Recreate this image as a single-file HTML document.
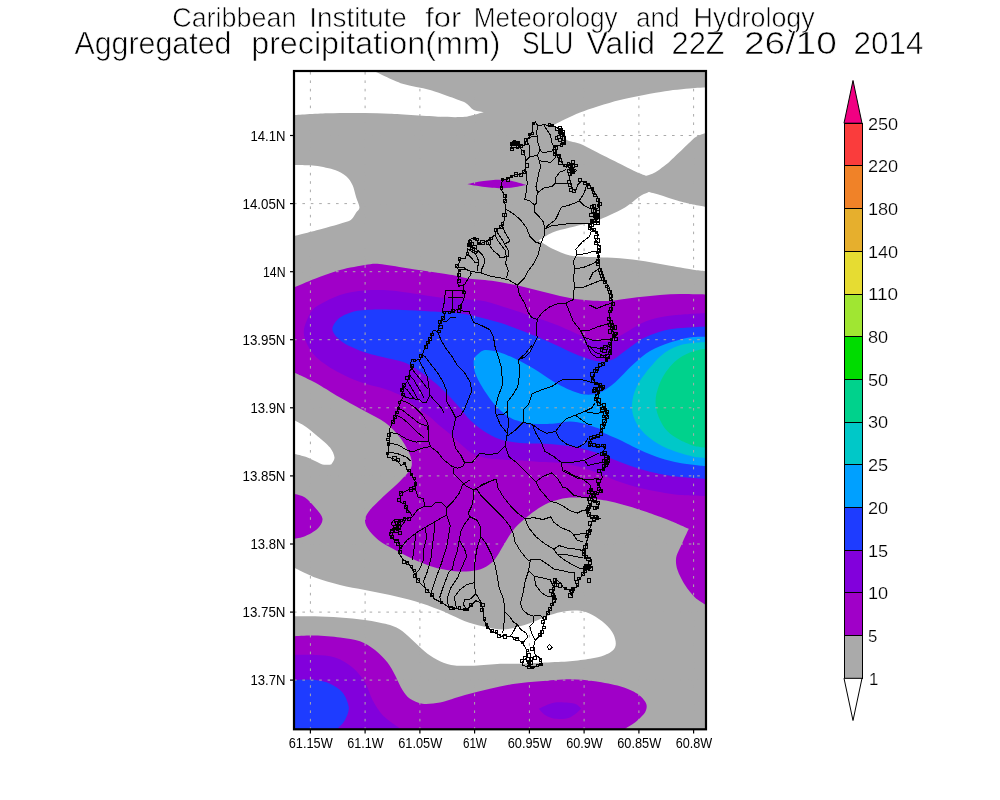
<!DOCTYPE html>
<html><head><meta charset="utf-8"><title>Aggregated precipitation SLU</title>
<style>
html,body{margin:0;padding:0;background:#fff}
body{width:1000px;height:800px;overflow:hidden}
svg{display:block}
text{font-family:"Liberation Sans",sans-serif;fill:#000}
</style></head><body>
<svg width="1000" height="800" viewBox="0 0 1000 800">
<rect width="1000" height="800" fill="#fff"/>
<defs><clipPath id="cp"><rect x="294" y="71" width="412" height="658.3"/></clipPath></defs>
<g clip-path="url(#cp)">
<path d="M290,65 L710,65 L710,735 L290,735Z" fill="#aaaaaa"/>
<path d="M290.0,65.0C290.0,65.0 374.0,65.0 374.0,65.0C374.0,65.0 374.0,71.0 374.0,71.0C374.0,71.0 393.6,80.7 402.5,83.8C411.4,86.8 421.0,87.3 430.0,90.0C439.0,92.7 461.5,100.9 465.0,102.5C468.5,104.1 470.7,108.5 473.8,110.0C476.8,111.5 483.8,112.0 483.8,112.0C483.8,112.0 471.4,116.1 465.0,116.8C458.6,117.4 448.3,117.1 440.0,116.8C431.7,116.4 398.3,114.2 390.0,113.8C381.7,113.3 373.3,113.1 365.0,113.0C356.7,112.9 338.7,112.9 327.5,113.2C316.3,113.6 295.3,114.9 294.0,115.0C292.7,115.1 290.0,115.0 290.0,115.0C290.0,115.0 290.0,65.0 290.0,65.0Z" fill="#ffffff"/>
<path d="M290.0,165.0C290.0,165.0 292.7,165.0 294.0,165.0C295.3,165.0 308.2,164.9 315.0,165.8C321.8,166.6 330.9,168.6 335.0,170.0C339.1,171.4 343.5,173.9 346.2,176.2C349.0,178.6 351.0,181.8 352.5,185.0C354.0,188.2 355.2,194.2 356.2,197.5C357.3,200.8 359.5,205.5 359.5,207.5C359.5,209.5 357.4,210.9 356.2,212.5C355.1,214.1 353.0,219.0 350.0,220.5C347.0,222.0 331.7,226.2 322.5,228.8C313.3,231.3 295.3,235.9 294.0,236.2C292.7,236.6 290.0,237.0 290.0,237.0C290.0,237.0 290.0,165.0 290.0,165.0Z" fill="#ffffff"/>
<path d="M553.8,125.0C553.8,125.0 570.9,115.9 580.0,112.5C589.1,109.1 606.4,103.4 620.0,100.0C633.6,96.6 655.1,92.8 665.0,91.2C674.9,89.7 690.0,88.4 695.0,88.0C700.0,87.6 710.0,87.5 710.0,87.5C710.0,87.5 710.0,131.5 710.0,131.5C710.0,131.5 707.3,132.5 706.0,133.0C704.7,133.5 698.1,135.1 695.0,137.5C691.9,139.9 674.7,157.1 670.0,161.2C665.3,165.4 657.7,170.9 655.0,172.5C652.3,174.1 646.2,175.8 646.2,175.8C646.2,175.8 640.3,173.8 637.5,172.5C634.7,171.2 621.7,164.6 615.0,161.2C608.3,157.9 600.0,153.8 595.0,151.2C590.0,148.8 584.4,145.6 580.0,143.8C575.6,141.9 570.2,142.3 566.2,139.5C562.3,136.7 553.8,125.0 553.8,125.0Z" fill="#ffffff"/>
<path d="M648.8,192.0C648.8,192.0 656.3,193.9 660.0,195.0C663.7,196.1 674.9,200.0 682.5,202.0C690.1,204.0 704.7,206.7 706.0,207.0C707.3,207.3 710.0,208.0 710.0,208.0C710.0,208.0 710.0,271.5 710.0,271.5C710.0,271.5 707.3,271.4 706.0,271.2C704.7,271.1 698.6,270.6 695.0,270.0C691.4,269.4 678.3,267.2 670.0,265.8C661.7,264.3 653.3,262.5 645.0,261.2C636.7,260.0 628.4,258.9 620.0,258.2C611.6,257.6 593.3,257.3 587.5,257.0C581.7,256.7 575.7,256.8 570.0,255.5C564.3,254.2 557.3,251.1 552.5,248.8C547.7,246.4 538.8,240.5 538.8,240.5C538.8,240.5 547.6,234.5 552.5,232.5C557.4,230.5 564.1,229.1 570.0,227.5C575.9,225.9 589.8,222.9 595.0,221.2C600.2,219.6 605.1,217.3 610.0,215.0C614.9,212.7 620.3,210.5 625.0,207.5C629.7,204.5 637.3,198.0 640.0,196.2C642.7,194.5 648.8,192.0 648.8,192.0Z" fill="#ffffff"/>
<path d="M290.0,418.0C290.0,418.0 292.7,419.3 294.0,420.0C295.3,420.7 301.5,423.9 305.0,426.2C308.5,428.6 313.4,432.8 317.5,436.2C321.6,439.7 327.7,444.6 330.0,447.5C332.3,450.4 334.3,454.9 334.5,457.5C334.7,460.1 331.2,464.5 331.2,464.5C331.2,464.5 325.3,465.3 322.5,464.5C319.7,463.7 311.9,459.1 307.5,457.5C303.1,455.9 295.3,454.1 294.0,453.8C292.7,453.4 290.0,453.0 290.0,453.0C290.0,453.0 290.0,418.0 290.0,418.0Z" fill="#ffffff"/>
<path d="M290.0,565.5C290.0,565.5 292.7,566.9 294.0,567.5C295.3,568.1 307.8,574.7 315.0,577.5C322.2,580.3 331.8,582.9 340.0,585.0C348.2,587.1 356.7,588.3 365.0,590.0C373.3,591.7 381.7,593.1 390.0,595.0C398.3,596.9 406.8,598.8 415.0,601.2C423.2,603.7 431.8,606.7 440.0,610.0C448.2,613.3 459.3,619.1 465.0,621.2C470.7,623.4 476.6,624.9 482.5,626.2C488.4,627.6 496.6,629.5 502.5,629.5C508.4,629.5 514.9,627.5 520.0,626.2C525.1,625.0 530.1,623.1 535.0,621.2C539.9,619.4 545.1,616.6 550.0,615.0C554.9,613.4 560.0,612.0 565.0,611.2C570.0,610.5 575.6,610.2 580.0,610.8C584.4,611.3 588.6,613.0 592.5,615.0C596.4,617.0 601.5,620.5 605.0,623.8C608.5,627.0 612.1,631.1 613.8,635.0C615.4,638.9 616.7,643.7 615.0,647.5C613.3,651.3 608.8,653.3 605.0,655.0C601.2,656.7 595.1,657.8 590.0,658.8C584.9,659.7 576.7,660.7 570.0,661.2C563.3,661.8 553.3,662.1 545.0,662.5C536.7,662.9 525.8,663.6 520.0,663.8C514.2,663.9 508.3,663.5 502.5,663.8C496.7,664.0 485.0,665.2 477.5,665.5C470.0,665.8 460.2,666.1 455.0,665.5C449.8,664.9 444.5,663.2 440.0,661.2C435.5,659.3 431.4,656.7 427.5,653.8C423.6,650.8 419.2,646.2 415.0,642.5C410.8,638.8 406.3,633.9 402.5,631.2C398.7,628.6 394.5,626.3 390.0,625.0C385.5,623.7 373.3,621.2 365.0,620.0C356.7,618.8 348.3,618.1 340.0,617.5C331.7,616.9 322.0,616.4 315.0,616.2C308.0,616.1 295.3,616.2 294.0,616.2C292.7,616.2 290.0,616.2 290.0,616.2C290.0,616.2 290.0,565.5 290.0,565.5Z" fill="#ffffff"/>
<path d="M290.0,289.0C290.0,289.0 292.7,288.0 294.0,287.5C295.3,287.0 307.9,281.4 315.0,278.8C322.1,276.1 331.8,272.3 340.0,270.0C348.2,267.7 360.9,265.7 365.0,265.0C369.1,264.3 373.3,263.5 377.5,263.8C381.7,264.0 394.2,266.2 402.5,267.5C410.8,268.8 419.2,270.0 427.5,271.2C435.8,272.5 446.6,274.0 452.5,275.0C458.4,276.0 464.1,277.9 470.0,278.8C475.9,279.6 486.7,280.0 495.0,281.2C503.3,282.5 513.3,284.5 520.0,286.0C526.7,287.5 533.3,289.3 540.0,291.0C546.7,292.7 553.4,294.6 560.0,296.0C566.6,297.4 573.4,298.8 580.0,299.6C586.6,300.4 595.3,300.9 600.0,301.0C604.7,301.1 609.4,300.9 614.0,300.4C618.6,299.9 633.3,297.8 640.0,297.0C646.7,296.2 653.3,295.5 660.0,295.0C666.7,294.5 673.3,294.1 680.0,294.0C686.7,293.9 704.7,294.4 706.0,294.4C707.3,294.4 710.0,294.4 710.0,294.4C710.0,294.4 710.0,607.5 710.0,607.5C710.0,607.5 707.3,605.9 706.0,605.0C704.7,604.1 698.2,600.6 695.0,597.5C691.8,594.4 687.9,589.5 685.0,585.0C682.1,580.5 678.8,574.0 677.5,570.0C676.2,566.0 675.5,561.6 676.2,557.5C677.0,553.4 680.5,547.1 682.5,542.5C684.5,537.9 688.8,528.8 688.8,528.8C688.8,528.8 676.0,523.1 672.0,521.5C668.0,519.9 664.0,518.3 660.0,516.8C656.0,515.3 648.0,512.4 642.0,510.5C636.0,508.6 630.0,506.7 624.0,505.1C618.0,503.5 612.1,501.7 606.0,500.6C599.9,499.5 590.4,498.3 584.4,497.9C578.4,497.5 571.3,497.4 566.4,497.9C561.5,498.4 556.4,499.9 552.0,501.5C547.6,503.1 543.4,505.3 539.4,507.8C535.4,510.3 529.5,514.7 525.0,518.6C520.5,522.5 515.9,526.8 512.4,531.2C508.9,535.6 506.4,540.8 503.4,545.6C500.4,550.4 497.5,556.5 494.4,560.0C491.3,563.5 487.0,566.4 483.0,568.3C479.0,570.2 474.4,570.8 470.0,571.2C465.6,571.7 460.0,571.8 455.0,571.2C450.0,570.7 441.5,569.3 435.0,567.5C428.5,565.7 421.0,562.6 415.0,560.0C409.0,557.4 403.2,554.3 397.5,551.2C391.8,548.2 384.3,544.4 380.0,541.2C375.7,538.1 370.8,532.9 368.8,530.0C366.7,527.1 364.8,523.6 365.0,520.0C365.2,516.4 367.7,512.9 370.0,510.0C372.3,507.1 380.1,499.7 385.0,495.0C389.9,490.3 395.9,485.5 400.0,481.2C404.1,477.0 409.8,471.4 411.2,467.5C412.7,463.6 411.5,458.9 410.0,455.0C408.5,451.1 404.1,442.8 400.0,437.5C395.9,432.2 390.7,426.7 385.0,422.5C379.3,418.3 371.7,415.0 365.0,411.2C358.3,407.5 348.2,402.2 340.0,397.5C331.8,392.8 321.8,386.2 315.0,382.5C308.2,378.8 295.3,373.1 294.0,372.5C292.7,371.9 290.0,370.5 290.0,370.5C290.0,370.5 290.0,289.0 290.0,289.0Z" fill="#a000c8"/>
<path d="M467.5,184.2C467.5,184.2 475.8,182.1 480.0,181.5C484.2,180.9 492.7,179.9 497.5,179.8C502.3,179.7 507.2,180.1 512.0,181.0C516.8,181.9 526.2,185.0 526.2,185.0C526.2,185.0 517.8,186.8 514.0,187.3C510.2,187.8 506.3,188.3 502.5,188.3C498.7,188.3 490.8,187.7 485.0,187.0C479.2,186.3 467.5,184.2 467.5,184.2Z" fill="#a000c8"/>
<path d="M290.0,492.5C290.0,492.5 292.7,493.3 294.0,493.8C295.3,494.2 301.8,495.4 305.0,497.5C308.2,499.6 312.1,504.0 315.0,507.5C317.9,511.0 322.1,515.0 322.5,518.8C322.9,522.5 320.1,526.1 317.5,528.8C314.9,531.4 308.5,534.8 305.0,536.2C301.5,537.7 295.3,538.5 294.0,538.8C292.7,539.0 290.0,539.5 290.0,539.5C290.0,539.5 290.0,492.5 290.0,492.5Z" fill="#a000c8"/>
<path d="M290.0,636.2C290.0,636.2 292.7,636.3 294.0,636.2C295.3,636.2 308.0,635.3 315.0,635.5C322.0,635.7 333.3,636.6 340.0,637.5C346.7,638.4 354.5,639.3 360.0,641.2C365.5,643.2 370.4,646.5 375.0,650.0C379.6,653.5 384.5,658.7 387.5,662.5C390.5,666.3 392.7,670.7 395.0,675.0C397.3,679.3 400.4,686.8 402.5,690.0C404.6,693.2 406.8,696.6 410.0,698.8C413.2,700.9 418.0,703.2 422.5,703.8C427.0,704.3 434.3,703.7 440.0,702.5C445.7,701.3 456.7,697.3 465.0,695.0C473.3,692.7 481.7,690.6 490.0,688.8C498.3,686.9 506.7,685.0 515.0,683.8C523.3,682.5 531.7,681.9 540.0,681.2C548.3,680.6 561.6,679.2 570.0,679.2C578.4,679.2 586.7,680.1 595.0,681.2C603.3,682.4 613.9,684.5 620.0,686.2C626.1,688.0 633.8,691.3 637.5,693.8C641.2,696.2 645.2,701.0 646.2,703.8C647.3,706.5 646.5,710.0 645.0,712.5C643.5,715.0 638.1,720.0 635.0,722.5C631.9,725.0 627.0,727.3 625.0,729.0C623.0,730.7 622.6,735.0 620.0,735.0C617.4,735.0 290.0,735.0 290.0,735.0C290.0,735.0 290.0,636.2 290.0,636.2Z" fill="#a000c8"/>
<path d="M303.8,332.5C303.7,328.2 305.2,323.9 307.0,320.0C308.8,316.1 311.1,310.5 315.0,307.5C318.9,304.5 332.0,297.7 340.0,295.0C348.0,292.3 356.7,291.2 365.0,290.5C373.3,289.8 381.7,290.0 390.0,290.5C398.3,291.0 406.7,292.6 415.0,293.8C423.3,294.9 431.7,296.5 440.0,297.5C448.3,298.5 458.3,298.9 465.0,299.5C471.7,300.1 478.4,299.9 485.0,301.2C491.6,302.6 503.3,306.7 507.5,308.0C511.7,309.3 516.6,310.8 520.0,312.0C523.4,313.2 526.7,314.9 530.0,316.0C533.3,317.1 536.7,317.9 540.0,319.0C543.3,320.1 551.4,322.8 557.0,325.0C562.6,327.2 568.4,330.1 574.0,332.5C579.6,334.9 585.5,338.0 591.0,339.5C596.5,341.0 602.4,342.6 608.0,341.5C613.6,340.4 619.4,336.0 625.0,333.0C630.6,330.0 636.6,325.5 642.0,323.0C647.4,320.5 653.4,318.8 659.0,317.5C664.6,316.2 670.3,315.5 676.0,315.0C681.7,314.5 704.7,313.1 706.0,313.0C707.3,312.9 710.0,313.0 710.0,313.0C710.0,313.0 710.0,496.0 710.0,496.0C710.0,496.0 707.3,496.0 706.0,496.0C704.7,496.0 686.7,495.6 680.0,495.0C673.3,494.4 666.6,493.2 660.0,492.0C653.4,490.8 646.6,489.6 640.0,488.0C633.4,486.4 626.6,484.3 620.0,482.0C613.4,479.7 606.6,476.5 600.0,474.0C593.4,471.5 586.6,468.8 580.0,467.0C573.4,465.2 566.6,463.8 560.0,463.0C553.4,462.2 546.7,462.4 540.0,462.0C533.3,461.6 524.0,460.7 520.0,460.5C516.0,460.3 512.0,460.2 508.0,460.0C504.0,459.8 496.1,459.5 492.0,459.0C487.9,458.5 483.5,457.6 480.0,456.5C476.5,455.4 473.1,454.0 470.0,452.0C466.9,450.0 463.3,446.4 460.0,443.5C456.7,440.6 453.2,436.8 450.0,434.0C446.8,431.2 443.3,428.8 440.0,426.0C436.7,423.2 433.2,419.5 430.0,417.0C426.8,414.5 423.3,412.4 420.0,410.0C416.7,407.6 413.3,404.4 410.0,402.0C406.7,399.6 403.6,396.8 400.0,395.0C396.4,393.2 389.1,390.3 383.5,388.5C377.9,386.7 372.1,385.8 366.5,384.0C360.9,382.2 355.4,380.4 350.0,378.0C344.6,375.6 338.1,372.4 332.5,369.0C326.9,365.6 319.5,360.4 316.0,357.0C312.5,353.6 309.4,348.9 307.5,345.0C305.6,341.1 303.8,336.8 303.8,332.5Z" fill="#8200dc"/>
<path d="M290.0,655.0C290.0,655.0 292.7,655.0 294.0,655.0C295.3,655.0 308.3,654.6 315.0,655.0C321.7,655.4 328.6,655.4 335.0,657.5C341.4,659.6 347.5,663.3 352.5,667.5C357.5,671.7 361.7,677.1 365.0,682.5C368.3,687.9 369.7,694.7 372.5,700.0C375.3,705.3 378.9,711.0 382.5,715.0C386.1,719.0 393.3,723.7 395.0,725.0C396.7,726.3 398.8,727.3 400.0,729.0C401.2,730.7 402.0,735.0 402.0,735.0C402.0,735.0 290.0,735.0 290.0,735.0C290.0,735.0 290.0,655.0 290.0,655.0Z" fill="#8200dc"/>
<path d="M538.8,708.8C538.8,708.8 549.3,703.3 555.0,702.5C560.7,701.7 572.4,703.1 575.0,703.8C577.6,704.4 581.2,708.8 581.2,708.8C581.2,708.8 574.4,715.8 570.0,717.5C565.6,719.2 558.5,719.1 555.0,718.8C551.5,718.4 547.5,716.5 545.0,715.0C542.5,713.5 538.8,708.8 538.8,708.8Z" fill="#8200dc"/>
<path d="M332.5,327.5C333.2,325.0 336.6,319.9 340.0,317.5C343.4,315.1 349.7,312.4 355.0,311.2C360.3,310.1 370.0,309.7 377.5,309.5C385.0,309.3 394.2,309.7 402.5,310.0C410.8,310.3 419.2,310.8 427.5,311.2C435.8,311.7 446.6,312.0 452.5,312.5C458.4,313.0 465.8,314.2 470.0,315.0C474.2,315.8 478.4,316.9 482.5,318.0C486.6,319.1 496.6,321.6 502.5,323.5C508.4,325.4 514.2,327.8 520.0,330.0C525.8,332.2 534.3,335.6 540.0,338.0C545.7,340.4 551.4,342.9 557.0,345.5C562.6,348.1 568.8,351.3 574.0,353.5C579.2,355.7 585.8,358.3 590.0,359.5C594.2,360.7 599.2,361.6 603.0,361.5C606.8,361.4 610.6,360.6 614.0,359.0C617.4,357.4 621.3,353.6 625.0,351.0C628.7,348.4 636.7,342.0 642.0,339.0C647.3,336.0 653.5,333.7 659.0,332.0C664.5,330.3 670.3,329.2 676.0,328.5C681.7,327.8 704.7,326.6 706.0,326.5C707.3,326.4 710.0,326.5 710.0,326.5C710.0,326.5 710.0,479.0 710.0,479.0C710.0,479.0 707.3,479.1 706.0,479.0C704.7,478.9 686.7,477.7 680.0,477.0C673.3,476.3 666.6,475.3 660.0,474.0C653.4,472.7 646.6,471.0 640.0,469.0C633.4,467.0 626.6,464.5 620.0,462.0C613.4,459.5 606.6,456.3 600.0,454.0C593.4,451.7 586.6,449.5 580.0,448.0C573.4,446.5 566.6,445.7 560.0,445.0C553.4,444.3 546.7,443.9 540.0,443.6C533.3,443.3 526.6,443.7 520.0,443.0C513.4,442.3 505.7,441.1 500.0,439.2C494.3,437.3 489.0,434.4 484.0,431.2C479.0,428.0 473.7,423.6 470.0,420.0C466.3,416.4 463.3,411.7 460.0,408.0C456.7,404.3 453.3,400.4 450.0,397.0C446.7,393.6 443.5,390.1 440.0,387.0C436.5,383.9 430.2,378.7 425.0,375.0C419.8,371.3 413.0,366.3 407.5,363.8C402.0,361.2 395.9,360.3 390.0,358.8C384.1,357.2 371.9,354.8 365.0,352.5C358.1,350.2 348.8,346.0 345.0,343.8C341.2,341.5 336.6,337.1 335.0,335.0C333.4,332.9 331.8,330.0 332.5,327.5Z" fill="#1e3cff"/>
<path d="M290.0,680.0C290.0,680.0 292.7,680.0 294.0,680.0C295.3,680.0 309.9,679.5 315.0,680.0C320.1,680.5 325.4,681.6 330.0,683.8C334.6,685.9 339.3,688.5 342.5,692.5C345.7,696.5 348.4,703.2 348.8,707.5C349.1,711.8 346.8,716.5 345.0,720.0C343.2,723.5 338.7,727.2 337.5,729.0C336.3,730.8 335.0,735.0 335.0,735.0C335.0,735.0 290.0,735.0 290.0,735.0C290.0,735.0 290.0,680.0 290.0,680.0Z" fill="#1e3cff"/>
<path d="M473.8,360.0C474.0,358.0 475.5,356.3 477.0,355.0C478.5,353.7 481.9,350.3 485.0,350.0C488.1,349.7 495.2,351.0 500.0,352.5C504.8,354.0 514.0,358.0 520.0,361.0C526.0,364.0 532.4,367.9 537.5,371.0C542.6,374.1 547.3,378.0 552.5,381.0C557.7,384.0 565.2,388.0 570.0,390.0C574.8,392.0 580.0,394.1 585.0,394.5C590.0,394.9 595.3,394.4 600.0,392.5C604.7,390.6 610.4,386.4 615.0,382.5C619.6,378.6 626.9,370.0 632.5,365.0C638.1,360.0 643.8,354.7 650.0,351.0C656.2,347.3 663.5,344.7 670.0,342.5C676.5,340.3 684.7,338.3 690.0,337.5C695.3,336.7 704.7,336.8 706.0,336.8C707.3,336.7 710.0,336.5 710.0,336.5C710.0,336.5 710.0,466.6 710.0,466.6C710.0,466.6 707.3,466.6 706.0,466.4C704.7,466.2 686.8,464.2 680.0,463.0C673.2,461.8 666.5,460.1 660.0,458.0C653.5,455.9 646.5,452.9 640.0,450.0C633.5,447.1 625.3,442.5 620.0,440.0C614.7,437.5 605.7,433.9 604.0,433.0C602.3,432.1 601.7,429.8 600.0,429.0C598.3,428.2 589.9,425.2 585.0,424.0C580.1,422.8 575.1,421.5 570.0,421.5C564.9,421.5 558.4,423.4 552.5,423.8C546.6,424.1 538.4,424.3 532.5,423.8C526.6,423.2 517.7,420.8 515.0,420.0C512.3,419.2 509.8,417.7 507.5,416.0C505.2,414.3 498.7,409.2 495.0,405.0C491.3,400.8 485.4,392.3 482.5,387.5C479.6,382.7 476.3,376.5 475.0,372.5C473.7,368.5 473.5,362.0 473.8,360.0Z" fill="#00a0ff"/>
<path d="M710.0,341.8C710.0,341.8 707.3,341.9 706.0,342.0C704.7,342.1 688.7,342.9 682.5,344.5C676.3,346.1 670.2,348.8 665.0,352.5C659.8,356.2 654.6,362.1 650.0,367.5C645.4,372.9 640.0,380.4 637.5,385.0C635.0,389.6 633.2,395.9 632.5,400.0C631.8,404.1 631.7,408.4 632.5,412.5C633.3,416.6 635.1,421.2 637.5,425.0C639.9,428.8 643.7,433.0 647.5,436.2C651.3,439.5 657.2,443.5 662.5,446.2C667.8,449.0 675.1,451.4 680.0,453.0C684.9,454.6 691.4,456.3 695.0,457.0C698.6,457.7 704.7,457.9 706.0,458.0C707.3,458.1 710.0,458.2 710.0,458.2C710.0,458.2 710.0,341.8 710.0,341.8Z" fill="#00c8c8"/>
<path d="M710.0,348.0C710.0,348.0 707.3,348.2 706.0,348.5C704.7,348.8 695.1,350.4 690.0,352.5C684.9,354.6 679.3,357.6 675.0,361.5C670.7,365.4 665.5,372.1 662.5,377.5C659.5,382.9 657.1,390.9 656.2,395.0C655.4,399.1 655.4,403.4 656.0,407.5C656.6,411.6 658.1,416.1 660.0,420.0C661.9,423.9 664.3,428.1 667.5,431.2C670.7,434.4 675.5,437.6 680.0,440.0C684.5,442.4 691.5,445.2 695.0,446.2C698.5,447.3 704.7,447.4 706.0,447.5C707.3,447.6 710.0,447.8 710.0,447.8C710.0,447.8 710.0,348.0 710.0,348.0Z" fill="#00d28c"/>
</g>
<g stroke="#aaaaaa" stroke-width="1" stroke-dasharray="2.6 5.8" fill="none">
<line x1="310.4" y1="72" x2="310.4" y2="729"/>
<line x1="365.1" y1="72" x2="365.1" y2="729"/>
<line x1="419.9" y1="72" x2="419.9" y2="729"/>
<line x1="474.6" y1="72" x2="474.6" y2="729"/>
<line x1="529.4" y1="72" x2="529.4" y2="729"/>
<line x1="584.1" y1="72" x2="584.1" y2="729"/>
<line x1="638.9" y1="72" x2="638.9" y2="729"/>
<line x1="693.6" y1="72" x2="693.6" y2="729"/>
<line x1="294" y1="135.5" x2="706" y2="135.5"/>
<line x1="294" y1="203.6" x2="706" y2="203.6"/>
<line x1="294" y1="271.7" x2="706" y2="271.7"/>
<line x1="294" y1="339.7" x2="706" y2="339.7"/>
<line x1="294" y1="407.8" x2="706" y2="407.8"/>
<line x1="294" y1="475.9" x2="706" y2="475.9"/>
<line x1="294" y1="544.0" x2="706" y2="544.0"/>
<line x1="294" y1="612.1" x2="706" y2="612.1"/>
<line x1="294" y1="680.1" x2="706" y2="680.1"/>
</g>
<g clip-path="url(#cp)">
<path fill="none" stroke="#000" stroke-width="1" shape-rendering="crispEdges" stroke-linejoin="round" d="M535.2,121.6 532.8,125.6 532.8,132.0 529.6,134.4 528.8,138.4 526.4,140.0 525.6,144.8 520.0,146.4 519.2,144.0 512.0,142.4 511.2,148.8 514.4,147.2 519.2,147.2 523.2,151.2 524.8,154.4 525.6,160.8 525.6,167.2 524.0,172.0 520.0,174.4 515.2,174.4 512.0,176.8 507.2,179.2 502.4,179.2 501.6,184.8 500.8,189.6 503.2,192.8 505.6,196.0 504.8,202.4 505.6,208.8 504.8,215.0 503.9,222.2 502.5,226.0 496.2,230.0 495.0,235.0 491.2,237.5 487.5,241.2 482.5,242.5 480.0,245.0 477.5,241.2 473.8,237.5 469.4,240.0 470.0,243.8 473.8,247.5 478.8,251.2 475.0,253.8 471.2,251.2 467.5,248.8 466.9,253.8 465.0,258.8 460.0,258.8 458.8,263.8 456.2,267.5 458.8,270.0 458.1,275.0 458.8,278.8 457.5,282.5 458.8,286.2 463.1,285.0 463.1,290.0 464.4,295.0 463.8,300.0 460.6,305.0 460.6,308.8 456.2,310.0 452.0,312.0 442.1,311.6 444.8,315.2 441.2,320.6 439.4,326.0 437.6,331.4 433.1,330.5 431.3,336.8 428.6,342.2 425.0,347.6 422.3,354.8 420.5,359.3 416.0,360.2 411.5,359.3 410.6,363.8 413.3,367.4 409.7,371.0 408.8,376.4 407.0,381.8 403.4,385.4 401.6,390.8 403.4,396.2 400.7,401.6 398.0,408.8 395.3,416.0 392.6,423.2 389.0,430.4 389.0,432.2 389.0,443.0 388.1,452.0 387.2,457.4 392.6,458.3 398.0,461.0 400.7,465.5 405.2,463.7 407.0,470.0 410.6,471.8 412.4,477.2 416.0,482.6 415.1,488.0 408.8,489.8 403.4,492.5 399.8,493.4 400.7,502.4 405.2,504.2 407.0,509.6 410.6,513.2 412.4,516.8 407.0,518.6 399.8,519.5 398.0,525.8 390.8,531.2 389.9,534.8 394.4,540.2 398.0,540.2 399.8,547.4 399.8,554.6 403.4,560.0 408.8,563.6 412.4,569.0 415.0,575.0 420.0,582.8 425.4,588.2 430.8,593.6 434.4,599.0 441.6,602.6 448.8,607.1 457.8,608.9 466.8,609.8 470.4,606.2 475.8,600.8 481.2,602.6 483.0,611.6 483.9,618.8 486.6,626.0 492.0,631.4 497.4,633.2 501.0,636.8 504.6,635.0 508.2,636.8 511.8,636.8 517.2,638.6 522.6,643.1 526.2,649.4 528.0,656.6 522.6,661.1 522.6,665.6 528.0,666.5 533.4,667.4 538.8,665.6 542.4,663.8 540.6,658.4 535.2,654.8 533.4,647.6 535.2,640.4 540.6,635.0 542.4,629.6 544.2,620.6 547.8,613.4 553.2,602.6 556.8,599.0 553.2,597.2 553.2,590.0 556.8,584.6 555.0,579.2 560.4,582.8 564.0,588.2 569.4,590.0 571.2,595.4 573.0,588.2 578.4,586.4 578.4,581.0 582.0,575.6 585.6,570.2 591.0,564.8 591.0,559.4 585.6,557.6 583.8,552.2 584.4,551.0 586.2,543.8 588.0,536.6 589.8,529.4 591.6,521.3 600.6,518.6 589.8,516.8 588.0,509.6 591.6,506.0 597.9,507.8 598.8,503.3 595.2,501.5 589.8,497.0 590.7,489.8 595.2,493.4 602.4,491.6 598.8,484.4 602.4,477.2 600.6,470.0 604.2,469.2 606.0,462.0 609.6,456.6 602.4,453.0 606.0,446.7 588.0,445.8 591.6,438.6 602.4,435.0 602.4,429.6 604.2,422.4 607.8,415.2 606.0,408.0 598.8,402.6 595.2,397.2 598.8,391.8 604.2,389.1 602.4,386.4 595.2,382.8 592.5,377.4 595.2,372.0 600.6,366.6 606.0,361.2 610.5,354.0 611.4,345.0 611.9,344.6 611.0,339.2 617.3,333.8 611.0,330.2 614.6,326.6 611.0,323.0 609.2,315.8 611.0,310.4 612.8,303.2 611.0,294.2 609.2,287.0 603.8,279.8 602.0,274.4 599.3,267.2 598.4,256.4 600.2,247.4 596.6,242.0 598.4,234.8 594.8,231.2 589.4,225.8 593.0,220.4 598.0,219.0 599.0,214.0 599.0,206.0 600.0,202.4 597.6,197.6 594.4,192.0 591.2,187.2 587.2,183.2 581.6,180.8 577.6,184.8 576.0,190.4 572.8,189.6 570.4,183.2 569.6,178.4 570.4,171.2 576.0,171.2 576.0,169.6 572.8,168.8 572.8,163.2 569.6,163.2 566.4,167.2 560.0,160.8 559.2,155.2 555.2,154.4 555.2,147.2 558.4,145.6 564.8,144.0 564.0,136.8 563.2,132.0 558.4,129.6 555.2,126.4 550.4,125.6 544.0,124.8 537.6,125.6 535.2,121.6Z M537.6,125.6 536.8,132.0 537.6,141.6 540.0,149.6 542.4,152.8 552.0,151.2 554.4,147.2 M544.0,125.6 550.4,135.2 552.0,143.2 554.4,147.2 M525.6,160.8 529.6,156.8 537.6,155.2 540.0,149.6 M537.6,155.2 539.2,160.8 550.4,162.4 555.2,157.6 555.2,154.4 M539.2,160.8 540.8,167.2 538.4,173.6 537.6,180.0 536.0,186.4 537.6,192.8 536.0,199.2 536.8,202.4 534.4,205.6 534.4,212.0 539.2,216.8 543.2,221.6 544.4,227.0 544.4,234.8 540.8,243.8 M525.6,167.2 526.4,175.2 527.2,183.2 526.4,189.6 525.6,196.0 524.8,199.2 529.6,200.8 534.4,204.8 M537.6,192.8 544.0,188.0 552.0,186.4 555.2,183.2 555.2,178.4 560.0,172.0 566.4,169.6 M555.2,183.2 561.6,183.2 569.6,183.2 M544.4,229.4 548.8,224.8 555.2,220.0 558.4,213.6 561.6,207.2 568.0,205.6 574.4,203.2 579.2,200.8 582.4,196.0 584.8,191.2 587.2,183.2 M579.2,200.8 584.0,205.6 590.4,208.8 596.0,208.8 600.0,207.2 M504.8,208.8 510.4,212.0 515.2,215.2 521.0,220.4 526.4,227.6 530.0,236.6 535.4,242.0 540.8,243.8 M544.4,229.4 551.6,225.8 566.0,224.0 580.4,223.1 589.4,224.0 M528.8,138.4 533.0,136.0 536.8,137.0 M526.4,140.0 530.0,147.0 529.6,156.8 M540.8,243.8 538.1,254.6 533.6,263.6 528.2,270.8 524.6,278.0 517.4,285.2 M517.4,285.2 508.4,279.8 501.2,278.0 490.4,276.2 479.6,272.6 472.4,271.7 463.4,269.0 458.9,270.8 M517.4,285.2 519.2,294.2 524.6,303.2 528.2,312.2 531.8,317.6 537.2,319.4 M537.2,319.4 542.6,312.2 549.8,306.8 558.8,303.2 566.0,303.2 573.2,299.6 573.2,292.4 575.0,287.0 M537.2,319.4 536.3,330.2 537.2,337.4 533.6,344.6 530.0,351.8 524.6,357.2 518.7,359.4 M566.0,303.2 569.6,312.2 573.2,321.2 580.4,330.2 584.0,337.4 587.6,346.4 591.2,353.6 596.6,357.2 609.2,357.2 M580.4,330.2 589.4,330.2 598.4,326.6 611.0,323.0 M584.0,337.4 594.8,341.0 605.6,339.2 611.0,339.2 M587.6,346.4 598.4,348.2 609.2,346.4 M589.4,305.0 596.6,308.6 605.6,305.0 611.9,303.2 M575.0,287.0 573.2,278.0 575.0,269.0 573.2,261.8 576.8,254.6 575.9,249.2 582.2,242.0 589.4,236.6 591.2,231.2 589.4,225.8 M575.0,287.0 584.0,287.0 593.0,283.4 602.0,279.8 M575.0,269.0 584.0,267.2 593.0,263.6 598.4,260.0 M576.8,254.6 585.8,253.7 594.8,251.0 598.4,252.8 M589.4,279.8 593.0,272.6 598.4,269.0 M506.6,256.4 505.7,263.6 508.4,270.8 506.6,278.0 M456.2,267.5 463.8,267.5 470.0,271.2 471.2,273.8 468.1,278.8 465.0,283.8 463.1,285.0 M478.8,251.2 482.5,255.0 485.0,260.0 483.8,265.0 481.2,270.0 481.2,272.5 M475.0,253.8 477.5,257.5 478.8,262.5 477.5,267.5 477.5,271.2 M466.9,253.8 471.2,257.5 475.0,262.5 477.5,262.5 M487.5,241.2 490.0,246.2 493.8,251.2 498.8,255.0 500.0,258.0 505.0,256.9 508.8,256.2 508.1,250.0 505.0,245.0 502.5,240.0 498.8,235.0 496.2,230.0 M495.0,235.0 497.5,240.0 501.2,245.0 505.0,250.0 506.2,256.2 M502.5,226.0 505.0,232.5 508.8,238.8 510.0,241.2 505.0,243.8 M445.7,290.0 464.6,290.0 M445.7,290.0 444.8,297.2 443.9,304.4 442.1,311.6 M452.6,291.0 452.0,312.0 M446.3,297.0 463.0,297.2 M460.1,310.7 469.1,311.6 473.6,322.4 482.6,326.0 489.8,329.6 493.4,336.8 495.2,347.6 498.0,355.8 501.6,368.4 502.5,384.6 498.0,397.2 495.3,408.0 496.2,415.2 503.4,414.3 507.0,411.6 507.0,402.6 512.4,395.4 517.8,386.4 519.6,373.8 518.7,359.4 525.0,354.0 532.2,345.0 M437.6,331.4 441.2,340.4 446.6,349.4 452.0,356.6 457.4,365.6 464.6,372.8 470.0,381.8 471.8,390.8 468.2,399.8 464.6,408.8 461.0,415.1 455.6,417.8 452.0,410.6 446.6,401.6 446.6,390.8 443.0,381.8 437.6,372.8 430.4,363.8 425.0,356.6 422.3,354.8 M455.6,417.8 453.8,426.8 452.0,434.0 453.8,441.2 455.6,448.4 461.0,455.6 464.6,462.8 M496.2,415.2 500.6,425.0 507.8,434.0 M441.2,320.6 446.0,322.0 450.0,318.0 456.0,317.6 M507.0,411.6 508.8,422.4 507.0,435.0 505.2,445.8 508.8,456.6 516.0,462.0 523.2,469.2 530.4,476.4 535.8,481.8 539.4,489.0 544.8,495.2 550.2,501.5 555.6,502.4 562.8,506.0 570.0,510.5 577.2,513.2 582.6,510.5 588.0,509.6 M505.2,445.8 498.0,453.0 489.0,454.8 480.0,453.0 471.8,462.8 464.6,462.8 M523.2,422.4 523.2,409.8 528.6,404.4 532.2,393.6 541.2,390.0 552.0,386.4 561.0,380.1 573.6,379.2 584.4,380.1 592.5,382.8 M523.2,422.4 516.0,429.6 508.8,435.0 507.0,435.0 M523.2,422.4 532.2,424.2 539.4,429.6 546.6,433.2 555.6,431.4 561.0,424.2 566.4,418.8 575.4,415.2 584.4,411.6 591.6,408.0 595.2,402.6 M575.4,415.2 582.6,420.6 588.0,424.2 591.6,424.2 M584.4,411.6 595.2,413.4 604.2,412.5 M555.6,431.4 559.2,438.6 566.4,444.0 577.2,447.6 584.4,444.0 588.0,438.6 M532.2,424.2 535.8,433.2 541.2,442.2 544.8,451.2 553.8,456.6 561.0,462.0 562.8,471.0 570.0,474.6 577.2,478.2 588.0,480.0 598.8,478.2 M561.0,462.0 573.6,462.0 584.4,460.2 591.6,456.6 598.8,453.0 M584.4,460.2 588.0,465.6 595.2,463.8 604.2,462.0 M535.8,481.8 543.0,476.4 552.0,472.8 557.4,478.2 562.8,487.2 566.4,488.0 573.6,495.2 580.8,497.0 588.0,497.0 M480.0,485.4 489.0,481.8 496.2,479.0 498.0,488.0 503.4,497.0 510.6,506.0 517.8,513.2 525.0,518.6 528.6,527.6 535.8,536.6 544.8,543.8 553.8,549.2 557.4,554.6 564.6,560.0 573.6,565.4 580.8,569.0 586.2,568.1 M588.0,345.0 595.2,352.2 604.2,355.8 610.5,354.0 M564.6,470.0 573.6,475.4 582.6,479.0 589.8,484.4 591.6,489.8 M389.0,432.2 398.0,434.0 407.0,439.4 416.0,442.1 428.6,441.2 M389.0,443.0 398.0,444.8 407.0,450.2 412.4,452.0 421.4,448.4 430.4,446.6 428.6,441.2 428.6,432.2 426.8,425.0 M388.1,452.0 398.0,453.8 407.0,457.4 410.6,461.0 M430.4,446.6 437.6,452.0 443.0,459.2 452.0,466.4 457.4,468.2 462.8,466.4 464.6,462.8 M453.8,468.2 453.8,473.6 461.0,480.8 466.4,486.2 473.6,489.8 M473.6,489.8 480.8,486.2 488.0,482.6 495.2,479.0 M473.6,489.8 477.2,489.8 480.8,495.2 488.0,502.4 495.2,509.6 502.4,516.8 509.6,525.8 513.2,533.0 515.0,542.0 520.4,551.0 527.6,560.0 530.4,560.0 M473.6,489.8 473.6,497.0 471.8,506.0 468.2,513.2 470.0,516.8 464.6,524.0 461.0,531.2 459.2,540.2 457.4,551.0 453.8,561.8 452.4,569.0 448.8,572.0 443.4,586.4 439.8,597.2 441.6,602.6 M470.0,516.8 477.2,520.4 480.8,527.6 480.8,536.6 477.2,547.4 475.8,555.8 474.0,570.2 474.0,582.8 475.8,593.6 481.2,602.6 M480.8,536.6 486.2,543.8 491.6,554.6 495.2,565.4 497.4,577.4 499.2,588.2 502.8,597.2 504.6,606.2 504.6,617.0 503.7,626.0 502.8,633.2 M459.2,540.2 464.6,549.2 466.8,556.0 461.4,568.4 457.8,577.4 450.6,588.2 447.0,599.0 448.8,607.1 M462.8,484.4 459.2,493.4 453.8,500.6 446.6,507.8 441.2,502.4 435.8,502.4 432.2,506.0 425.0,506.0 423.2,498.8 417.8,497.0 415.1,488.0 M446.6,507.8 446.6,515.0 434.0,522.2 425.0,527.6 416.0,533.0 407.0,540.2 399.8,549.2 M446.6,515.0 450.2,525.8 448.4,536.6 446.6,547.4 443.0,558.2 441.6,563.0 436.2,577.4 432.6,588.2 430.8,593.6 M434.0,522.2 434.0,533.0 432.2,547.4 430.8,559.4 427.2,572.0 423.6,581.0 425.4,588.2 M425.0,527.6 426.8,536.6 423.2,551.0 423.6,559.4 420.0,568.4 415.0,575.0 M416.0,533.0 414.2,547.4 412.4,560.0 M425.0,506.0 417.8,509.6 412.4,516.8 M418.8,360.0 423.8,368.8 427.5,377.5 428.8,386.2 430.0,395.0 426.2,402.5 422.5,402.5 420.0,400.0 413.8,398.8 406.2,397.5 402.5,395.0 M410.6,365.0 413.8,371.2 418.8,377.5 423.8,383.8 427.5,388.8 M409.4,375.0 413.8,380.0 417.5,386.2 421.2,392.5 423.8,397.5 M407.5,381.2 411.2,387.5 415.0,393.8 417.5,398.8 M402.5,386.2 407.5,390.0 411.2,395.0 413.8,398.8 M430.0,395.0 435.0,401.2 441.2,407.5 443.8,412.5 M400.0,400.0 407.5,402.5 415.0,407.5 422.5,415.0 427.5,422.5 428.8,430.0 428.6,441.2 M398.0,407.5 403.8,411.2 410.0,416.2 415.0,420.0 420.0,423.8 427.5,426.2 M396.2,415.0 401.2,417.5 407.5,422.5 412.5,427.5 417.5,432.5 423.8,437.5 M398.0,531.0 390.8,524.0 M398.0,531.0 392.0,528.0 M398.0,531.0 394.0,520.0 M398.0,531.0 399.0,519.5 M398.0,531.0 405.0,521.0 M390.8,524.0 394.0,520.0 399.8,519.5 M525.0,518.6 534.0,517.7 543.0,519.5 551.1,516.8 553.8,522.2 561.0,527.6 570.0,531.2 573.6,534.8 580.8,533.9 588.0,533.0 M573.6,534.8 577.2,540.2 582.6,542.0 M553.8,549.2 559.2,545.6 568.2,548.3 577.2,549.2 584.4,551.0 M557.4,554.6 566.4,554.6 575.4,556.4 583.5,558.2 M530.4,560.0 528.6,570.8 525.0,581.6 523.2,592.4 520.5,603.2 522.6,609.8 528.0,614.3 533.4,616.1 533.4,622.4 529.8,626.0 531.6,633.2 535.2,640.4 M530.4,560.0 539.4,559.1 546.6,563.6 553.8,569.0 562.8,570.8 570.0,572.6 574.5,572.6 574.5,579.8 577.2,585.2 M528.6,570.8 534.0,576.2 543.0,578.0 550.2,579.8 553.8,587.0 M534.0,576.2 535.8,585.2 541.2,592.4 546.6,596.0 553.2,597.2 M533.4,616.1 540.6,615.2 544.2,620.6 M504.6,611.6 510.0,617.0 513.6,622.4 517.2,624.2 520.8,629.6 526.2,633.2 528.0,636.8 522.6,643.1 M517.2,624.2 513.6,631.4 510.0,636.8 M474.0,582.8 466.8,584.6 459.6,590.0 454.2,597.2 456.0,606.2 457.8,608.9 M475.8,593.6 470.4,599.0 465.0,599.0 463.2,604.4 466.8,609.8 M470.0,480.0 462.8,484.4 M549.6,644.5 552.3,647.2 549.6,650.0 547.0,647.2Z"/>
<path fill="none" stroke="#000" stroke-width="1" shape-rendering="crispEdges" d="M532.2,122.6h2.2v2.2h-2.2zM531.3,132.0h2.6v2.6h-2.6zM528.1,133.6h2.2v2.2h-2.2zM524.7,138.4h2.6v2.6h-2.6zM524.2,141.2h3.4v3.4h-3.4zM519.9,144.7h2.6v2.6h-2.6zM516.5,141.5h3.0v3.0h-3.0zM513.3,140.6h2.6v2.6h-2.6zM510.7,142.8h2.2v2.2h-2.2zM510.5,147.0h3.0v3.0h-3.0zM516.3,145.6h2.6v2.6h-2.6zM521.5,150.8h3.4v3.4h-3.4zM525.1,163.8h3.4v3.4h-3.4zM522.2,170.4h3.4v3.4h-3.4zM519.6,173.1h3.0v3.0h-3.0zM514.0,172.7h3.4v3.4h-3.4zM510.0,175.1h2.2v2.2h-2.2zM506.5,177.6h3.4v3.4h-3.4zM501.7,178.5h2.2v2.2h-2.2zM500.0,186.8h2.6v2.6h-2.6zM503.3,194.1h3.4v3.4h-3.4zM503.6,199.6h2.6v2.6h-2.6zM502.9,213.1h3.4v3.4h-3.4zM501.0,222.5h2.6v2.6h-2.6zM499.1,225.5h3.0v3.0h-3.0zM494.4,228.7h3.0v3.0h-3.0zM489.8,237.0h2.2v2.2h-2.2zM486.7,240.6h3.4v3.4h-3.4zM480.9,240.7h3.4v3.4h-3.4zM477.2,242.2h2.6v2.6h-2.6zM475.6,238.1h2.6v2.6h-2.6zM473.1,237.0h2.2v2.2h-2.2zM468.7,242.7h3.0v3.0h-3.0zM472.8,245.5h3.4v3.4h-3.4zM474.0,251.6h2.2v2.2h-2.2zM466.0,252.7h2.6v2.6h-2.6zM458.6,257.8h2.2v2.2h-2.2zM455.4,264.5h3.0v3.0h-3.0zM458.3,269.0h2.6v2.6h-2.6zM457.5,273.7h2.6v2.6h-2.6zM457.7,279.4h2.6v2.6h-2.6zM462.8,291.6h2.2v2.2h-2.2zM458.4,305.2h3.0v3.0h-3.0zM457.8,309.1h3.0v3.0h-3.0zM451.3,309.6h3.0v3.0h-3.0zM448.3,311.7h2.2v2.2h-2.2zM443.6,311.3h2.2v2.2h-2.2zM441.6,316.8h2.6v2.6h-2.6zM438.6,320.9h3.0v3.0h-3.0zM438.7,325.1h3.4v3.4h-3.4zM437.6,330.1h2.6v2.6h-2.6zM430.8,333.3h2.6v2.6h-2.6zM428.8,337.6h3.0v3.0h-3.0zM426.8,341.1h2.2v2.2h-2.2zM424.9,345.9h2.6v2.6h-2.6zM419.8,354.5h2.6v2.6h-2.6zM413.2,359.6h2.2v2.2h-2.2zM410.1,364.1h3.4v3.4h-3.4zM405.8,376.2h3.4v3.4h-3.4zM402.6,383.6h2.6v2.6h-2.6zM400.8,388.9h3.0v3.0h-3.0zM401.9,393.7h2.2v2.2h-2.2zM398.1,401.4h2.2v2.2h-2.2zM397.3,407.6h2.2v2.2h-2.2zM395.5,411.3h2.6v2.6h-2.6zM393.1,415.5h3.4v3.4h-3.4zM391.1,420.1h3.0v3.0h-3.0zM387.2,433.1h3.4v3.4h-3.4zM386.9,438.1h2.2v2.2h-2.2zM387.1,442.4h2.6v2.6h-2.6zM386.1,452.3h2.6v2.6h-2.6zM392.7,456.7h3.4v3.4h-3.4zM396.3,458.5h3.4v3.4h-3.4zM403.1,462.6h2.2v2.2h-2.2zM407.9,469.7h2.2v2.2h-2.2zM410.5,473.0h2.2v2.2h-2.2zM413.4,477.1h2.2v2.2h-2.2zM414.1,482.6h2.6v2.6h-2.6zM412.8,486.0h3.0v3.0h-3.0zM409.2,487.6h3.4v3.4h-3.4zM399.2,491.6h3.4v3.4h-3.4zM397.9,498.2h3.0v3.0h-3.0zM403.4,501.4h2.2v2.2h-2.2zM404.3,505.7h3.0v3.0h-3.0zM406.3,510.5h2.2v2.2h-2.2zM407.6,517.2h3.0v3.0h-3.0zM403.2,517.4h2.6v2.6h-2.6zM400.1,519.5h2.2v2.2h-2.2zM397.9,522.3h2.6v2.6h-2.6zM393.8,525.4h3.4v3.4h-3.4zM390.9,529.5h3.0v3.0h-3.0zM389.9,532.4h2.6v2.6h-2.6zM390.8,535.5h2.6v2.6h-2.6zM394.8,539.4h3.4v3.4h-3.4zM396.2,542.5h3.0v3.0h-3.0zM399.0,545.4h2.6v2.6h-2.6zM398.2,550.5h3.0v3.0h-3.0zM402.2,560.2h3.0v3.0h-3.0zM406.5,561.8h2.2v2.2h-2.2zM410.0,565.3h2.2v2.2h-2.2zM413.1,569.4h2.2v2.2h-2.2zM413.8,574.9h2.2v2.2h-2.2zM416.4,578.6h3.4v3.4h-3.4zM425.8,589.4h2.6v2.6h-2.6zM430.0,593.1h3.4v3.4h-3.4zM440.7,601.6h2.2v2.2h-2.2zM449.6,606.5h2.6v2.6h-2.6zM452.5,607.5h2.2v2.2h-2.2zM458.2,606.9h2.2v2.2h-2.2zM463.5,608.4h2.2v2.2h-2.2zM466.2,608.2h2.2v2.2h-2.2zM469.2,603.9h3.0v3.0h-3.0zM480.7,603.2h3.4v3.4h-3.4zM480.9,608.7h3.0v3.0h-3.0zM483.3,617.4h2.6v2.6h-2.6zM485.0,623.3h2.6v2.6h-2.6zM486.5,626.4h2.2v2.2h-2.2zM490.9,629.4h3.0v3.0h-3.0zM495.2,630.7h2.6v2.6h-2.6zM497.7,634.4h3.0v3.0h-3.0zM503.3,634.6h3.4v3.4h-3.4zM513.2,637.2h2.2v2.2h-2.2zM515.4,637.6h3.0v3.0h-3.0zM521.1,641.0h2.2v2.2h-2.2zM526.3,649.1h2.2v2.2h-2.2zM526.9,653.6h3.4v3.4h-3.4zM523.3,656.6h3.0v3.0h-3.0zM520.7,659.9h3.0v3.0h-3.0zM527.9,665.6h3.0v3.0h-3.0zM531.0,666.0h2.2v2.2h-2.2zM536.4,664.3h2.2v2.2h-2.2zM539.7,663.1h2.6v2.6h-2.6zM539.1,658.4h2.6v2.6h-2.6zM530.8,647.3h3.4v3.4h-3.4zM538.4,633.3h3.4v3.4h-3.4zM540.8,630.7h3.0v3.0h-3.0zM542.6,626.0h2.6v2.6h-2.6zM541.9,620.5h3.0v3.0h-3.0zM543.2,616.3h3.4v3.4h-3.4zM546.3,611.0h3.4v3.4h-3.4zM548.0,607.4h3.4v3.4h-3.4zM550.7,603.2h2.6v2.6h-2.6zM552.1,599.1h3.0v3.0h-3.0zM552.1,595.4h3.4v3.4h-3.4zM551.5,593.6h3.0v3.0h-3.0zM549.8,589.9h3.0v3.0h-3.0zM552.1,587.5h2.6v2.6h-2.6zM554.8,583.3h3.4v3.4h-3.4zM553.5,581.5h2.2v2.2h-2.2zM553.2,578.7h3.4v3.4h-3.4zM558.1,583.9h3.4v3.4h-3.4zM564.3,587.3h2.2v2.2h-2.2zM568.9,593.8h3.4v3.4h-3.4zM570.6,589.7h2.6v2.6h-2.6zM571.6,587.4h3.0v3.0h-3.0zM576.6,583.6h2.2v2.2h-2.2zM575.8,580.8h2.6v2.6h-2.6zM577.9,577.0h2.2v2.2h-2.2zM581.5,572.7h3.0v3.0h-3.0zM583.5,570.2h2.6v2.6h-2.6zM583.7,566.9h3.0v3.0h-3.0zM586.6,565.2h3.4v3.4h-3.4zM588.0,561.0h3.0v3.0h-3.0zM586.9,557.1h3.4v3.4h-3.4zM584.3,555.3h3.0v3.0h-3.0zM582.7,553.3h2.6v2.6h-2.6zM582.7,549.8h2.6v2.6h-2.6zM583.6,545.4h3.4v3.4h-3.4zM585.1,543.2h2.2v2.2h-2.2zM585.5,535.0h2.6v2.6h-2.6zM586.8,530.9h3.4v3.4h-3.4zM588.8,529.1h2.2v2.2h-2.2zM588.1,521.6h3.4v3.4h-3.4zM592.4,518.7h3.0v3.0h-3.0zM596.7,516.3h2.2v2.2h-2.2zM594.8,515.6h2.6v2.6h-2.6zM590.2,515.0h3.4v3.4h-3.4zM587.4,512.9h3.4v3.4h-3.4zM586.3,511.5h2.2v2.2h-2.2zM586.1,507.0h3.4v3.4h-3.4zM589.0,504.0h2.2v2.2h-2.2zM593.9,506.6h3.0v3.0h-3.0zM595.9,506.4h2.2v2.2h-2.2zM596.4,501.1h3.0v3.0h-3.0zM593.5,500.4h2.2v2.2h-2.2zM588.8,497.0h3.4v3.4h-3.4zM587.3,490.4h3.4v3.4h-3.4zM589.4,488.0h3.0v3.0h-3.0zM593.1,491.8h3.0v3.0h-3.0zM596.3,492.2h2.2v2.2h-2.2zM599.2,489.2h3.4v3.4h-3.4zM597.5,487.2h3.0v3.0h-3.0zM597.1,483.1h2.2v2.2h-2.2zM596.6,479.1h3.4v3.4h-3.4zM597.9,469.7h2.6v2.6h-2.6zM602.1,468.7h2.2v2.2h-2.2zM602.1,464.5h3.0v3.0h-3.0zM604.3,460.8h2.6v2.6h-2.6zM604.9,457.7h2.6v2.6h-2.6zM607.0,456.4h2.6v2.6h-2.6zM603.1,453.6h2.2v2.2h-2.2zM600.0,452.2h3.4v3.4h-3.4zM603.3,444.5h2.6v2.6h-2.6zM601.0,444.7h2.2v2.2h-2.2zM596.9,444.7h3.0v3.0h-3.0zM592.6,443.4h3.0v3.0h-3.0zM588.3,443.8h2.6v2.6h-2.6zM588.9,441.3h2.2v2.2h-2.2zM589.7,436.6h3.0v3.0h-3.0zM592.2,435.5h3.4v3.4h-3.4zM596.4,434.4h2.6v2.6h-2.6zM599.1,432.0h3.0v3.0h-3.0zM600.0,429.0h2.2v2.2h-2.2zM600.8,424.8h3.4v3.4h-3.4zM602.6,422.5h2.6v2.6h-2.6zM602.8,419.0h3.4v3.4h-3.4zM605.6,410.9h3.0v3.0h-3.0zM603.3,406.5h2.6v2.6h-2.6zM602.5,403.8h3.0v3.0h-3.0zM597.8,402.4h2.6v2.6h-2.6zM596.6,398.8h3.4v3.4h-3.4zM594.3,397.5h3.0v3.0h-3.0zM595.1,394.6h3.4v3.4h-3.4zM597.1,391.2h2.2v2.2h-2.2zM602.1,385.8h2.6v2.6h-2.6zM598.5,383.1h3.4v3.4h-3.4zM594.5,382.3h2.6v2.6h-2.6zM591.5,379.6h2.6v2.6h-2.6zM591.1,377.6h2.2v2.2h-2.2zM590.9,372.7h3.4v3.4h-3.4zM593.6,369.3h3.4v3.4h-3.4zM595.6,367.0h3.0v3.0h-3.0zM598.5,363.2h3.4v3.4h-3.4zM601.2,362.0h3.4v3.4h-3.4zM605.2,359.2h2.2v2.2h-2.2zM605.7,354.7h3.4v3.4h-3.4zM608.7,351.7h2.6v2.6h-2.6zM609.5,349.9h2.2v2.2h-2.2zM609.1,345.0h2.6v2.6h-2.6zM608.7,342.2h2.2v2.2h-2.2zM610.1,338.0h2.6v2.6h-2.6zM612.0,334.6h3.0v3.0h-3.0zM613.8,332.4h3.0v3.0h-3.0zM608.3,329.9h3.4v3.4h-3.4zM610.5,326.4h3.0v3.0h-3.0zM610.1,323.4h3.0v3.0h-3.0zM609.5,320.0h3.0v3.0h-3.0zM607.7,317.4h3.0v3.0h-3.0zM608.8,310.7h2.2v2.2h-2.2zM609.5,307.0h3.0v3.0h-3.0zM611.5,302.7h3.0v3.0h-3.0zM609.3,298.5h2.2v2.2h-2.2zM609.2,294.6h3.0v3.0h-3.0zM608.9,290.6h3.0v3.0h-3.0zM607.7,288.1h2.2v2.2h-2.2zM605.7,285.0h2.2v2.2h-2.2zM603.8,280.7h3.0v3.0h-3.0zM601.4,277.8h2.6v2.6h-2.6zM600.7,274.6h2.6v2.6h-2.6zM599.5,271.2h3.4v3.4h-3.4zM598.0,268.3h3.0v3.0h-3.0zM596.3,262.5h3.0v3.0h-3.0zM596.5,259.9h3.4v3.4h-3.4zM597.6,255.4h2.2v2.2h-2.2zM596.4,251.7h2.2v2.2h-2.2zM597.7,249.9h2.6v2.6h-2.6zM597.2,245.2h3.4v3.4h-3.4zM594.5,241.4h3.0v3.0h-3.0zM595.8,238.8h3.4v3.4h-3.4zM594.4,235.4h3.4v3.4h-3.4zM595.2,231.3h2.2v2.2h-2.2zM592.1,228.1h3.0v3.0h-3.0zM588.3,226.2h3.4v3.4h-3.4zM588.6,224.6h3.0v3.0h-3.0zM591.3,220.1h2.2v2.2h-2.2zM593.9,219.4h2.6v2.6h-2.6zM596.2,214.0h3.0v3.0h-3.0zM596.2,210.0h3.4v3.4h-3.4zM597.2,204.7h2.2v2.2h-2.2zM598.0,202.0h3.0v3.0h-3.0zM596.4,198.8h2.6v2.6h-2.6zM593.7,194.2h2.6v2.6h-2.6zM592.3,191.0h2.2v2.2h-2.2zM591.5,187.8h2.2v2.2h-2.2zM587.5,185.6h3.0v3.0h-3.0zM587.4,183.2h2.2v2.2h-2.2zM583.1,181.1h3.4v3.4h-3.4zM578.9,178.9h2.2v2.2h-2.2zM572.7,189.5h3.0v3.0h-3.0zM569.6,188.5h2.6v2.6h-2.6zM568.6,183.5h3.0v3.0h-3.0zM567.4,180.9h3.0v3.0h-3.0zM568.0,172.8h3.0v3.0h-3.0zM567.4,169.3h3.4v3.4h-3.4zM571.9,170.0h2.2v2.2h-2.2zM572.5,169.1h2.2v2.2h-2.2zM570.2,165.9h2.6v2.6h-2.6zM571.1,160.9h3.0v3.0h-3.0zM567.3,162.8h2.6v2.6h-2.6zM563.4,164.0h2.6v2.6h-2.6zM558.6,161.3h3.4v3.4h-3.4zM558.4,158.4h3.4v3.4h-3.4zM557.4,154.9h3.0v3.0h-3.0zM553.9,153.2h2.2v2.2h-2.2zM553.3,149.6h3.0v3.0h-3.0zM553.7,145.9h3.4v3.4h-3.4zM561.1,142.7h2.2v2.2h-2.2zM561.8,140.7h3.4v3.4h-3.4zM562.4,136.9h3.4v3.4h-3.4zM560.9,133.5h3.0v3.0h-3.0zM561.9,130.0h2.6v2.6h-2.6zM558.2,129.7h2.6v2.6h-2.6zM555.6,127.0h3.0v3.0h-3.0zM551.3,124.3h2.2v2.2h-2.2zM548.1,123.5h2.6v2.6h-2.6zM591.5,208.5h3.6v3.6h-3.6zM596.6,210.7h3.0v3.0h-3.0zM592.1,204.8h3.0v3.0h-3.0zM594.1,215.2h3.6v3.6h-3.6zM590.5,205.0h3.0v3.0h-3.0zM593.2,213.1h3.6v3.6h-3.6zM589.6,223.0h3.6v3.6h-3.6zM593.2,221.0h3.0v3.0h-3.0zM595.7,218.9h3.6v3.6h-3.6zM596.0,221.2h3.6v3.6h-3.6zM593.6,209.8h2.4v2.4h-2.4zM593.9,214.5h3.0v3.0h-3.0zM590.1,219.9h3.0v3.0h-3.0zM589.6,213.0h3.6v3.6h-3.6zM559.5,131.0h3.0v3.0h-3.0zM558.4,126.9h3.0v3.0h-3.0zM558.9,138.7h2.4v2.4h-2.4zM562.0,132.7h2.4v2.4h-2.4zM557.9,135.6h2.4v2.4h-2.4zM555.1,136.6h2.4v2.4h-2.4zM560.5,143.9h2.4v2.4h-2.4zM558.4,128.0h3.6v3.6h-3.6zM558.2,130.2h3.0v3.0h-3.0zM558.6,138.0h3.0v3.0h-3.0zM571.6,164.6h3.0v3.0h-3.0zM569.8,167.3h3.0v3.0h-3.0zM571.3,169.5h3.6v3.6h-3.6zM574.7,164.4h2.4v2.4h-2.4zM570.3,164.6h2.4v2.4h-2.4zM568.6,164.7h3.0v3.0h-3.0zM603.0,411.9h3.6v3.6h-3.6zM600.8,407.4h3.6v3.6h-3.6zM602.2,415.3h2.4v2.4h-2.4zM605.5,415.1h3.0v3.0h-3.0zM601.1,407.1h2.4v2.4h-2.4zM606.0,459.7h3.0v3.0h-3.0zM604.9,462.1h2.4v2.4h-2.4zM602.3,459.8h3.0v3.0h-3.0zM602.9,451.3h3.6v3.6h-3.6zM604.7,463.2h3.0v3.0h-3.0zM602.3,464.9h3.0v3.0h-3.0zM605.1,461.0h3.0v3.0h-3.0zM604.6,455.8h3.6v3.6h-3.6zM592.6,497.9h3.6v3.6h-3.6zM588.9,500.2h3.0v3.0h-3.0zM591.5,493.9h3.0v3.0h-3.0zM587.7,497.4h3.0v3.0h-3.0zM587.0,505.7h3.0v3.0h-3.0zM592.8,494.7h3.0v3.0h-3.0zM587.9,564.1h2.4v2.4h-2.4zM584.2,564.9h3.0v3.0h-3.0zM584.8,565.8h2.4v2.4h-2.4zM589.3,567.2h3.0v3.0h-3.0zM585.3,566.6h3.0v3.0h-3.0zM588.5,566.6h3.6v3.6h-3.6zM587.1,578.8h3.6v3.6h-3.6zM516.6,144.0h3.6v3.6h-3.6zM516.2,141.9h3.6v3.6h-3.6zM512.8,141.5h3.0v3.0h-3.0zM515.8,142.0h2.4v2.4h-2.4zM513.4,142.7h2.4v2.4h-2.4zM529.2,661.0h3.0v3.0h-3.0zM529.2,657.7h3.0v3.0h-3.0zM526.7,657.5h3.6v3.6h-3.6zM533.1,656.6h3.0v3.0h-3.0zM528.9,660.7h3.6v3.6h-3.6zM527.5,660.2h3.0v3.0h-3.0zM470.3,247.4h2.4v2.4h-2.4zM468.3,240.8h3.6v3.6h-3.6zM467.4,243.3h3.6v3.6h-3.6zM472.2,247.8h2.4v2.4h-2.4zM470.9,242.6h2.4v2.4h-2.4zM394.5,528.8h3.6v3.6h-3.6zM395.2,521.3h3.6v3.6h-3.6zM397.1,525.9h3.6v3.6h-3.6zM398.9,531.4h3.0v3.0h-3.0zM610.8,326.3h3.6v3.6h-3.6zM608.8,323.4h3.0v3.0h-3.0zM613.2,325.9h3.6v3.6h-3.6zM614.4,337.5h3.0v3.0h-3.0zM614.6,332.5h2.4v2.4h-2.4zM610.5,324.1h3.0v3.0h-3.0zM600.6,355.5h2.4v2.4h-2.4zM603.9,345.6h3.6v3.6h-3.6zM602.5,349.3h3.6v3.6h-3.6zM600.1,348.8h2.4v2.4h-2.4zM592.8,389.7h3.0v3.0h-3.0zM595.9,387.8h3.6v3.6h-3.6zM597.7,387.3h3.6v3.6h-3.6zM593.1,387.9h3.6v3.6h-3.6z"/>
</g>
<rect x="294" y="71" width="412" height="658.3" fill="none" stroke="#000" stroke-width="2.2"/>
<g stroke="#000" stroke-width="1.2">
<line x1="310.4" y1="729" x2="310.4" y2="733.4"/>
<line x1="365.1" y1="729" x2="365.1" y2="733.4"/>
<line x1="419.9" y1="729" x2="419.9" y2="733.4"/>
<line x1="474.6" y1="729" x2="474.6" y2="733.4"/>
<line x1="529.4" y1="729" x2="529.4" y2="733.4"/>
<line x1="584.1" y1="729" x2="584.1" y2="733.4"/>
<line x1="638.9" y1="729" x2="638.9" y2="733.4"/>
<line x1="693.6" y1="729" x2="693.6" y2="733.4"/>
<line x1="290" y1="135.5" x2="294" y2="135.5"/>
<line x1="290" y1="203.6" x2="294" y2="203.6"/>
<line x1="290" y1="271.7" x2="294" y2="271.7"/>
<line x1="290" y1="339.7" x2="294" y2="339.7"/>
<line x1="290" y1="407.8" x2="294" y2="407.8"/>
<line x1="290" y1="475.9" x2="294" y2="475.9"/>
<line x1="290" y1="544.0" x2="294" y2="544.0"/>
<line x1="290" y1="612.1" x2="294" y2="612.1"/>
<line x1="290" y1="680.1" x2="294" y2="680.1"/>
</g>
<g font-size="14">
<text x="310.7" y="748" text-anchor="middle" textLength="44" lengthAdjust="spacingAndGlyphs">61.15W</text>
<text x="365.4" y="748" text-anchor="middle" textLength="36.5" lengthAdjust="spacingAndGlyphs">61.1W</text>
<text x="420.2" y="748" text-anchor="middle" textLength="44" lengthAdjust="spacingAndGlyphs">61.05W</text>
<text x="474.9" y="748" text-anchor="middle" textLength="24" lengthAdjust="spacingAndGlyphs">61W</text>
<text x="529.7" y="748" text-anchor="middle" textLength="44" lengthAdjust="spacingAndGlyphs">60.95W</text>
<text x="584.4" y="748" text-anchor="middle" textLength="36.5" lengthAdjust="spacingAndGlyphs">60.9W</text>
<text x="639.2" y="748" text-anchor="middle" textLength="44" lengthAdjust="spacingAndGlyphs">60.85W</text>
<text x="693.9" y="748" text-anchor="middle" textLength="36.5" lengthAdjust="spacingAndGlyphs">60.8W</text>
<text x="285.5" y="140.6" text-anchor="end" textLength="35" lengthAdjust="spacingAndGlyphs">14.1N</text>
<text x="285.5" y="208.7" text-anchor="end" textLength="43" lengthAdjust="spacingAndGlyphs">14.05N</text>
<text x="285.5" y="276.8" text-anchor="end" textLength="22.5" lengthAdjust="spacingAndGlyphs">14N</text>
<text x="285.5" y="344.8" text-anchor="end" textLength="43" lengthAdjust="spacingAndGlyphs">13.95N</text>
<text x="285.5" y="412.9" text-anchor="end" textLength="35" lengthAdjust="spacingAndGlyphs">13.9N</text>
<text x="285.5" y="481.0" text-anchor="end" textLength="43" lengthAdjust="spacingAndGlyphs">13.85N</text>
<text x="285.5" y="549.1" text-anchor="end" textLength="35" lengthAdjust="spacingAndGlyphs">13.8N</text>
<text x="285.5" y="617.2" text-anchor="end" textLength="43" lengthAdjust="spacingAndGlyphs">13.75N</text>
<text x="285.5" y="685.2" text-anchor="end" textLength="35" lengthAdjust="spacingAndGlyphs">13.7N</text>
</g>
<g stroke="#fff" stroke-width="0.65">
<text x="172.2" y="27" font-size="27.8" textLength="124.2" lengthAdjust="spacingAndGlyphs">Caribbean</text>
<text x="309.2" y="27" font-size="27.8" textLength="97.7" lengthAdjust="spacingAndGlyphs">Institute</text>
<text x="425.2" y="27" font-size="27.8" textLength="36.2" lengthAdjust="spacingAndGlyphs">for</text>
<text x="473.7" y="27" font-size="27.8" textLength="144.0" lengthAdjust="spacingAndGlyphs">Meteorology</text>
<text x="635.9" y="27" font-size="27.8" textLength="43.5" lengthAdjust="spacingAndGlyphs">and</text>
<text x="693.6" y="27" font-size="27.8" textLength="121.2" lengthAdjust="spacingAndGlyphs">Hydrology</text>
<text x="74.5" y="54.2" font-size="30.6" textLength="156.9" lengthAdjust="spacingAndGlyphs">Aggregated</text>
<text x="251.2" y="54.2" font-size="30.6" textLength="249.2" lengthAdjust="spacingAndGlyphs">precipitation(mm)</text>
<text x="522.0" y="54.2" font-size="30.6" textLength="51.4" lengthAdjust="spacingAndGlyphs">SLU</text>
<text x="586.6" y="54.2" font-size="30.6" textLength="68.5" lengthAdjust="spacingAndGlyphs">Valid</text>
<text x="671.5" y="54.2" font-size="30.6" textLength="53.2" lengthAdjust="spacingAndGlyphs">22Z</text>
<text x="743.9" y="54.2" font-size="30.6" textLength="93.0" lengthAdjust="spacingAndGlyphs">26/10</text>
<text x="853.4" y="54.2" font-size="30.6" textLength="70.2" lengthAdjust="spacingAndGlyphs">2014</text>
</g>
<g stroke="#000" stroke-width="1">
<path d="M844,123.2 L853,80.5 L862,123.2Z" fill="#f00082"/>
<g shape-rendering="crispEdges">
<rect x="844" y="123.20" width="18" height="42.7" fill="#fa3c3c"/>
<rect x="844" y="165.90" width="18" height="42.7" fill="#f08228"/>
<rect x="844" y="208.60" width="18" height="42.7" fill="#e6af2d"/>
<rect x="844" y="251.30" width="18" height="42.7" fill="#e6dc32"/>
<rect x="844" y="294.00" width="18" height="42.7" fill="#a0e632"/>
<rect x="844" y="336.70" width="18" height="42.7" fill="#00dc00"/>
<rect x="844" y="379.40" width="18" height="42.7" fill="#00d28c"/>
<rect x="844" y="422.10" width="18" height="42.7" fill="#00c8c8"/>
<rect x="844" y="464.80" width="18" height="42.7" fill="#00a0ff"/>
<rect x="844" y="507.50" width="18" height="42.7" fill="#1e3cff"/>
<rect x="844" y="550.20" width="18" height="42.7" fill="#8200dc"/>
<rect x="844" y="592.90" width="18" height="42.7" fill="#a000c8"/>
<rect x="844" y="635.60" width="18" height="42.7" fill="#aaaaaa"/>
</g>
<path d="M844,678.30 L853,720.5 L862,678.30Z" fill="#fff"/>
</g>
<g font-size="16.8" stroke="#fff" stroke-width="0.2">
<text x="867.9" y="129.5" textLength="30.3" lengthAdjust="spacingAndGlyphs">250</text>
<text x="867.9" y="172.2" textLength="30.3" lengthAdjust="spacingAndGlyphs">220</text>
<text x="867.9" y="214.9" textLength="30.3" lengthAdjust="spacingAndGlyphs">180</text>
<text x="867.9" y="257.6" textLength="30.3" lengthAdjust="spacingAndGlyphs">140</text>
<text x="867.9" y="300.3" textLength="30.3" lengthAdjust="spacingAndGlyphs">110</text>
<text x="867.9" y="343.0" textLength="20.2" lengthAdjust="spacingAndGlyphs">80</text>
<text x="867.9" y="385.7" textLength="20.2" lengthAdjust="spacingAndGlyphs">50</text>
<text x="867.9" y="428.4" textLength="20.2" lengthAdjust="spacingAndGlyphs">30</text>
<text x="867.9" y="471.1" textLength="20.2" lengthAdjust="spacingAndGlyphs">25</text>
<text x="867.9" y="513.8" textLength="20.2" lengthAdjust="spacingAndGlyphs">20</text>
<text x="867.9" y="556.5" textLength="20.2" lengthAdjust="spacingAndGlyphs">15</text>
<text x="867.9" y="599.2" textLength="20.2" lengthAdjust="spacingAndGlyphs">10</text>
<text x="867.9" y="641.9">5</text>
<text x="868.9" y="684.6">1</text>
</g>
</svg></body></html>
